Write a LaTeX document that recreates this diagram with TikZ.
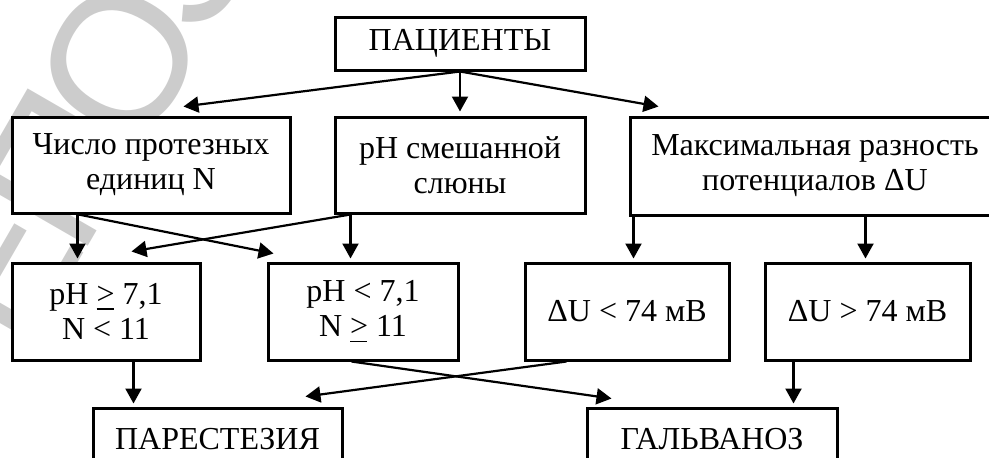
\documentclass[tikz,border=0pt]{standalone}
\usepackage{fontspec}
\setmainfont{Liberation Serif}
\newfontfamily\wmfont[LetterSpace=-8]{Liberation Sans}
\usetikzlibrary{arrows.meta,calc}
% ">" with a flat bar beneath it
\newcommand\gebar{\mbox{\rlap{\raisebox{-0.17em}{\rule{0.54em}{0.05em}}}>}}
\begin{document}
\begin{tikzpicture}[x=1pt,y=-1pt,
  box/.style={draw, fill=white, line width=3pt, align=center, inner sep=0pt,
    font=\fontsize{32}{35}\selectfont},
  arr/.style={line width=2.2pt, -{Triangle[length=15pt,width=16pt]}},
  wm/.style={text=black!20, inner sep=0pt, rotate=60,
    font=\wmfont\fontsize{190}{190}\selectfont}]
\useasboundingbox (0,0) rectangle (989,458);
\clip (0,0) rectangle (989,458);

% background stamp, split at the letter O
\coordinate (wmO) at (139,158);
\coordinate (wmP) at (149,141);
\node[wm, anchor=base east] (stampA) at (wmP) {РЕП};
\node[wm, anchor=base west] (stampB) at (wmO) {ОЗИТОРИЙ};

% boxes
\node[box, minimum width=250pt, minimum height=53pt] (pat) at (460,43.5) {ПАЦИЕНТЫ};
\node[box, minimum width=278pt, minimum height=96pt] (num) at (151,165) {Число протезных\\единиц N};
\node[box, minimum width=250pt, minimum height=96pt] (ph) at (460,165) {pH смешанной\\слюны};
\node[box, minimum width=370pt, minimum height=98pt] (du) at (815,166) {Максимальная разность\\потенциалов ΔU};
\node[box, minimum width=188pt, minimum height=97pt] (a1) at (106,311.5) {pH \gebar{} 7,1\\N < 11};
\node[box, minimum width=190pt, minimum height=97pt] (a2) at (363,311.5) {pH < 7,1\\N \gebar{} 11};
\node[box, minimum width=204pt, minimum height=97pt] (b1) at (627,311.5) {ΔU < 74 мВ};
\node[box, minimum width=205pt, minimum height=97pt] (b2) at (867.5,311.5) {ΔU > 74 мВ};
\node[box, minimum width=249pt, minimum height=62pt] (par) at (217.5,439) {ПАРЕСТЕЗИЯ};
\node[box, minimum width=250pt, minimum height=62pt] (gal) at (712,439) {ГАЛЬВАНОЗ};

% connectors
\draw[arr] (pat.south) -- ($(num.north west)+(173,-9)$);
\draw[arr] (pat.south) -- ($(ph.north)+(0,-4)$);
\draw[arr] (pat.south) -- ($(du.north west)+(30,-9)$);
\draw[arr] ($(num.south west)+(67,0)$) -- ($(a1.north west)+(67,-3)$);
\draw[arr] ($(num.south west)+(68,0)$) -- ($(a2.north west)+(7,-8)$);
\draw[arr] ($(ph.south west)+(17,0)$) -- ($(a1.north west)+(121,-10)$);
\draw[arr] ($(ph.south west)+(17,0)$) -- ($(a2.north west)+(84,-3)$);
\draw[arr] ($(du.south west)+(5,0)$) -- ($(b1.north west)+(110,-3)$);
\draw[arr] ($(du.south west)+(237,0)$) -- ($(b2.north west)+(102,-3)$);
\draw[arr] ($(a1.south west)+(123,0)$) -- ($(par.north west)+(42,-3)$);
\draw[arr] ($(a2.south west)+(85,0)$) -- ($(gal.north west)+(26,-8)$);
\draw[arr] ($(b1.south west)+(43,0)$) -- ($(par.north west)+(214,-10)$);
\draw[arr] ($(b2.south west)+(30,0)$) -- ($(gal.north west)+(208,-3)$);
\end{tikzpicture}
\end{document}
